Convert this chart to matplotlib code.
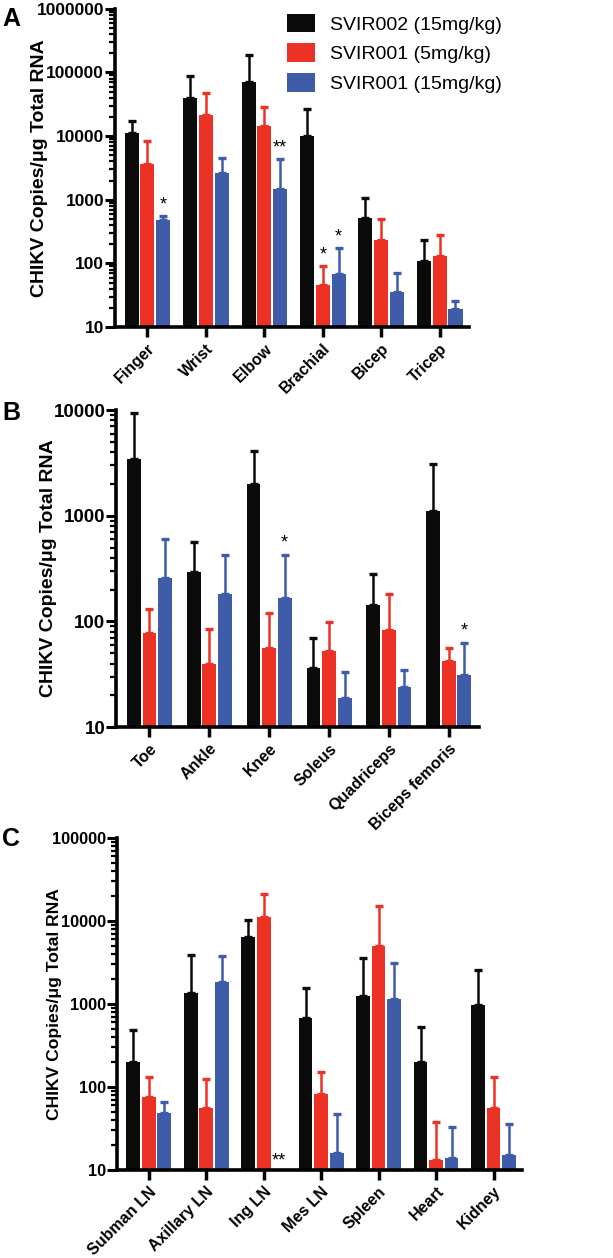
import numpy as np
import matplotlib
matplotlib.use("Agg")
import matplotlib.pyplot as plt
from matplotlib.patches import Patch
from matplotlib.ticker import LogLocator, FuncFormatter, NullFormatter

plt.rcParams['font.family'] = ['Liberation Sans', 'DejaVu Sans']

series_names = ['SVIR002 (15mg/kg)', 'SVIR001 (5mg/kg)', 'SVIR001 (15mg/kg)']
colors = ['#0b0b0b', '#ec3225', '#3f5ca9']

# Panel A - upper limb
a_labels = ['Finger', 'Wrist', 'Elbow', 'Brachial', 'Bicep', 'Tricep']
a_black = [11200, 40000, 70000, 10000, 520, 110]
a_black_err = [5800, 49000, 115000, 17000, 530, 125]
a_red = [3700, 21600, 14400, 45, 230, 130]
a_red_err = [4600, 25400, 14600, 46, 260, 145]
a_blue = [480, 2600, 1500, 68, 35, 19]
a_blue_err = [80, 2000, 2800, 107, 36, 7]
a_stars = [(0, 2, '*'), (2, 2, '**'), (3, 1, '*'), (3, 2, '*')]

# Panel B - lower limb
b_labels = ['Toe', 'Ankle', 'Knee', 'Soleus', 'Quadriceps', 'Biceps femoris']
b_black = [3460, 293, 2000, 36, 142, 1120]
b_black_err = [5840, 277, 2100, 33, 138, 1980]
b_red = [78, 40, 56, 53, 83, 42]
b_red_err = [52, 44, 63, 46, 97, 14]
b_blue = [260, 180, 165, 19, 24, 31]
b_blue_err = [340, 250, 265, 14, 11, 32]
b_stars = [(2, 2, '*'), (5, 2, '*')]

# Panel C - lymph nodes and organs
c_labels = ['Subman LN', 'Axillary LN', 'Ing LN', 'Mes LN', 'Spleen', 'Heart', 'Kidney']
c_black = [200, 1350, 6400, 680, 1240, 200, 960]
c_black_err = [290, 2550, 3800, 860, 2360, 330, 1600]
c_red = [75, 56, 11200, 82, 5000, 13, 56]
c_red_err = [57, 69, 9800, 71, 10000, 25, 74]
c_blue = [48, 1820, np.nan, 16, 1160, 14, 15]
c_blue_err = [18, 1980, np.nan, 31, 1940, 19, 21]
c_stars = [(2, 2, '**')]

tick_family = ['Liberation Sans Narrow', 'Liberation Sans', 'DejaVu Sans']


def draw_panel(ax, labels, means, errs, stars, ymax, off, width,
               ylab_size, ylab_x, ytick_size):
    x = np.arange(len(labels))
    for i, (m, e, c) in enumerate(zip(means, errs, colors)):
        xs = x + (i - 1) * off
        m = np.array(m, dtype=float)
        e = np.array(e, dtype=float)
        ax.bar(xs, m, width=width, color=c, zorder=2)
        ok = ~np.isnan(m)
        ax.errorbar(xs[ok], m[ok], yerr=[np.zeros(ok.sum()), e[ok]], fmt='none',
                    ecolor=c, elinewidth=1.8, capsize=3.2, capthick=2.4, zorder=1)
    for g, s, txt in stars:
        m = means[s][g]
        e = errs[s][g]
        xs = g + (s - 1) * off
        if np.isnan(m):
            ax.annotate(txt, (xs, 10), xytext=(0, 0), textcoords='offset points',
                        ha='center', va='bottom', fontsize=13)
        else:
            ax.annotate(txt, (xs, m + e), xytext=(0, 2), textcoords='offset points',
                        ha='center', va='bottom', fontsize=13)
    ax.set_yscale('log')
    ax.set_ylim(10, ymax)
    ax.set_xlim(-0.55, len(labels) - 0.5)
    ax.yaxis.set_major_locator(LogLocator(base=10))
    ax.yaxis.set_minor_locator(LogLocator(base=10, subs=np.arange(2, 10)))
    ax.yaxis.set_major_formatter(FuncFormatter(lambda v, p: f"{int(round(v))}"))
    ax.yaxis.set_minor_formatter(NullFormatter())
    ax.set_xticks(x)
    ax.set_xticklabels(labels, rotation=45, ha='right', rotation_mode='anchor',
                       fontsize=11.5, fontweight='bold')
    for t in ax.get_yticklabels():
        t.set_fontweight('bold')
        t.set_fontsize(ytick_size)
        t.set_family(tick_family)
    ax.tick_params(axis='y', which='major', length=7, width=2.2, pad=1)
    ax.tick_params(axis='y', which='minor', length=4, width=1.6)
    ax.tick_params(axis='x', which='major', length=7, width=2.5, pad=3)
    for sp in ['top', 'right']:
        ax.spines[sp].set_visible(False)
    for sp in ['left', 'bottom']:
        ax.spines[sp].set_linewidth(2.6)
    ax.set_ylabel('CHIKV Copies/\u03bcg Total RNA', fontsize=ylab_size, fontweight='bold')
    ax.yaxis.set_label_coords(ylab_x, 0.5)


fig = plt.figure(figsize=(6.13, 12.58), dpi=100)

ax_a = fig.add_axes([0.188, 0.740, 0.577, 0.253])
draw_panel(ax_a, a_labels, [a_black, a_red, a_blue], [a_black_err, a_red_err, a_blue_err],
           a_stars, 1000000, 0.27, 0.24, 14, -0.19, 12.5)

ax_b = fig.add_axes([0.190, 0.422, 0.591, 0.252])
draw_panel(ax_b, b_labels, [b_black, b_red, b_blue], [b_black_err, b_red_err, b_blue_err],
           b_stars, 10000, 0.26, 0.23, 14, -0.165, 13.5)

ax_c = fig.add_axes([0.191, 0.070, 0.661, 0.264])
draw_panel(ax_c, c_labels, [c_black, c_red, c_blue], [c_black_err, c_red_err, c_blue_err],
           c_stars, 100000, 0.27, 0.24, 12.6, -0.135, 11.8)

handles = [Patch(facecolor=c, edgecolor='none') for c in colors]
fig.legend(handles, series_names, loc='upper left', bbox_to_anchor=(0.44, 1.003),
           frameon=False, fontsize=14, handlelength=1.45, handleheight=1.1,
           labelspacing=0.5, handletextpad=0.75)

fig.text(0.004, 0.985, 'A', fontsize=18, fontweight='bold', va='center')
fig.text(0.004, 0.672, 'B', fontsize=18, fontweight='bold', va='center')
fig.text(0.004, 0.333, 'C', fontsize=18, fontweight='bold', va='center')

fig.savefig('out.png', dpi=100)
